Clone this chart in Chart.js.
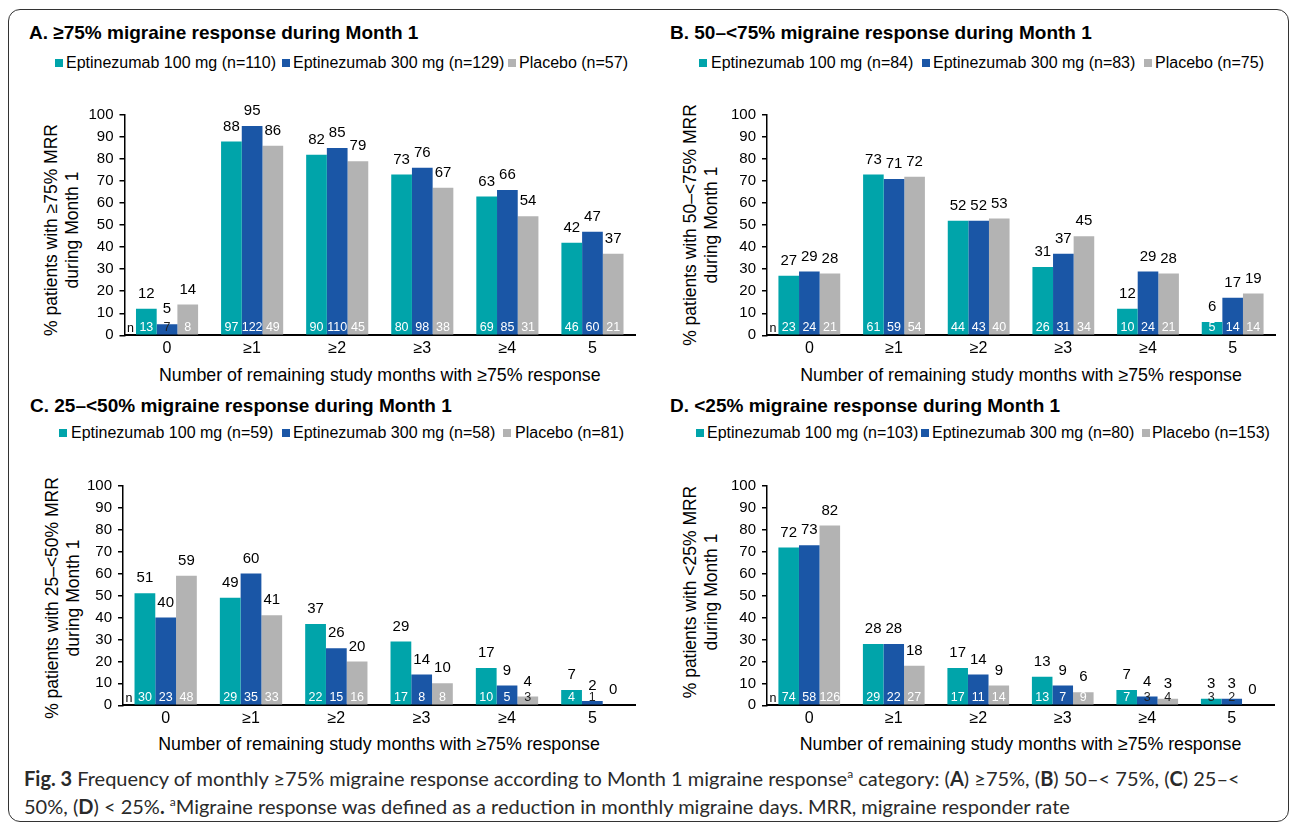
<!DOCTYPE html>
<html>
<head>
<meta charset="utf-8">
<script src="https://cdn.jsdelivr.net/npm/chart.js@4.4.0/dist/chart.umd.min.js"></script>
<style>
  body { margin: 0; background: #fff; width: 1292px; height: 827px; position: relative; overflow: hidden;
         font-family: "Liberation Sans", Arial, sans-serif; color: #000; }
  .frame { position: absolute; left: 8px; top: 9px; width: 1281px; height: 813px; box-sizing: border-box;
           border: 1.5px solid #333; border-radius: 12px; }
  .title { position: absolute; font-weight: bold; font-size: 19px; line-height: 22px; white-space: nowrap; }
  .leg { position: absolute; font-size: 16px; line-height: 18px; white-space: nowrap; }
  .sw { position: absolute; width: 8px; height: 8px; }
  .xt { position: absolute; width: 600px; text-align: center; font-size: 17.8px; line-height: 20px; white-space: nowrap; }
  .yt { position: absolute; width: 300px; height: 42px; text-align: center; font-size: 17.5px; line-height: 20.6px;
        transform: rotate(-90deg); white-space: nowrap; }
  canvas { position: absolute; }
  .cap { position: absolute; left: 24px; font-family: Lato, "Liberation Sans", sans-serif; font-size: 20px;
         line-height: 22px; white-space: nowrap; color: #2a2a2a; }
  .cap sup { font-size: 12px; line-height: 0; }
</style>
</head>
<body>
<div class="frame"></div>

<script>
// x categories
const categories = ['0', '≥1', '≥2', '≥3', '≥4', '5'];
const seriesNames = ['Eptinezumab 100 mg', 'Eptinezumab 300 mg', 'Placebo'];
const seriesColors = ['#00A4AA', '#1A56A6', '#B3B3B3'];

// y axis
const yMin = 0;
const yMax = 100;
const yStep = 10;

// A. >=75% response in Month 1
const aTotals = [110, 129, 57];
const aPct100 = [12, 88, 82, 73, 63, 42];
const aPct300 = [5, 95, 85, 76, 66, 47];
const aPctPbo = [14, 86, 79, 67, 54, 37];
const aN100 = [13, 97, 90, 80, 69, 46];
const aN300 = [7, 122, 110, 98, 85, 60];
const aNPbo = [8, 49, 45, 38, 31, 21];

// B. 50-<75%
const bTotals = [84, 83, 75];
const bPct100 = [27, 73, 52, 31, 12, 6];
const bPct300 = [29, 71, 52, 37, 29, 17];
const bPctPbo = [28, 72, 53, 45, 28, 19];
const bN100 = [23, 61, 44, 26, 10, 5];
const bN300 = [24, 59, 43, 31, 24, 14];
const bNPbo = [21, 54, 40, 34, 21, 14];

// C. 25-<50%
const cTotals = [59, 58, 81];
const cPct100 = [51, 49, 37, 29, 17, 7];
const cPct300 = [40, 60, 26, 14, 9, 2];
const cPctPbo = [59, 41, 20, 10, 4, 0];
const cN100 = [30, 29, 22, 17, 10, 4];
const cN300 = [23, 35, 15, 8, 5, 1];
const cNPbo = [48, 33, 16, 8, 3, null];

// D. <25%
const dTotals = [103, 80, 153];
const dPct100 = [72, 28, 17, 13, 7, 3];
const dPct300 = [73, 28, 14, 9, 4, 3];
const dPctPbo = [82, 18, 9, 6, 3, 0];
const dN100 = [74, 29, 17, 13, 7, 3];
const dN300 = [58, 22, 11, 7, 3, 2];
const dNPbo = [126, 27, 14, 9, 4, null];

const FONT = '"Liberation Sans", Arial, sans-serif';
Chart.defaults.font.family = FONT;
Chart.defaults.color = '#000';

// value above each bar, n inside the bar bottom
const barLabels = {
  id: 'barLabels',
  afterDatasetsDraw(chart) {
    const { ctx, chartArea } = chart;
    ctx.save();
    ctx.textAlign = 'center';
    ctx.textBaseline = 'middle';
    chart.data.datasets.forEach((ds, i) => {
      chart.getDatasetMeta(i).data.forEach((bar, j) => {
        ctx.font = '15px ' + FONT;
        ctx.fillStyle = '#000';
        ctx.fillText(String(ds.data[j]), bar.x, bar.y - 15);
        const n = ds.nValues[j];
        if (n == null) return;
        ctx.font = '12.5px ' + FONT;
        ctx.fillStyle = (bar.base - bar.y) < 12 ? '#222' : '#fff';
        ctx.fillText(String(n), bar.x, bar.base - 7);
      });
    });
    ctx.font = '12.5px ' + FONT;
    ctx.fillStyle = '#000';
    ctx.fillText('n', chartArea.left + 6, chartArea.bottom - 7);
    ctx.restore();
  }
};

const panels = [
  { title: 'A. ≥75% migraine response during Month 1', ytitle: ['% patients with ≥75% MRR', 'during Month 1'],
    totals: aTotals, pct: [aPct100, aPct300, aPctPbo], n: [aN100, aN300, aNPbo],
    box: { left: 80, top: 100, w: 565, h: 265, yw: 44.5, pt: 15, pr: 10 },
    titleAt: [29, 22], legY: 54, legX: [[55, 66], [282, 293], [508, 519]],
    ytAt: [62.3, 230], xtY: 365 },
  { title: 'B. 50–<75% migraine response during Month 1', ytitle: ['% patients with 50–<75% MRR', 'during Month 1'],
    totals: bTotals, pct: [bPct100, bPct300, bPctPbo], n: [bN100, bN300, bNPbo],
    box: { left: 725, top: 100, w: 560, h: 265, yw: 42, pt: 15, pr: 10 },
    titleAt: [670, 22], legY: 54, legX: [[699, 711], [922, 933], [1144, 1155]],
    ytAt: [701, 225], xtY: 365 },
  { title: 'C. 25–<50% migraine response during Month 1', ytitle: ['% patients with 25–<50% MRR', 'during Month 1'],
    totals: cTotals, pct: [cPct100, cPct300, cPctPbo], n: [cN100, cN300, cNPbo],
    box: { left: 80, top: 470, w: 565, h: 265, yw: 43, pt: 15.7, pr: 10 },
    titleAt: [30, 395], legY: 424, legX: [[59, 71], [282, 293], [503, 515]],
    ytAt: [62.5, 598], xtY: 734 },
  { title: 'D. <25% migraine response during Month 1', ytitle: ['% patients with <25% MRR', 'during Month 1'],
    totals: dTotals, pct: [dPct100, dPct300, dPctPbo], n: [dN100, dN300, dNPbo],
    box: { left: 725, top: 470, w: 560, h: 265, yw: 42, pt: 16, pr: 11 },
    titleAt: [670, 395], legY: 424, legX: [[696, 707], [921, 932], [1142, 1152]],
    ytAt: [701, 592], xtY: 734 }
];

function addDiv(cls, html, style) {
  const d = document.createElement('div');
  d.className = cls;
  d.innerHTML = html;
  Object.assign(d.style, style);
  document.body.appendChild(d);
  return d;
}

panels.forEach(p => {
  const b = p.box;
  addDiv('title', p.title, { left: p.titleAt[0] + 'px', top: p.titleAt[1] + 'px' });
  seriesNames.forEach((name, i) => {
    addDiv('sw', '', { left: p.legX[i][0] + 'px', top: (p.legY + 5) + 'px', background: seriesColors[i] });
    addDiv('leg', name + ' (n=' + p.totals[i] + ')', { left: p.legX[i][1] + 'px', top: p.legY + 'px' });
  });
  const plotLeft = b.left + b.yw;
  const plotRight = b.left + b.w - b.pr;
  addDiv('xt', 'Number of remaining study months with ≥75% response',
         { left: ((plotLeft + plotRight) / 2 - 300) + 'px', top: p.xtY + 'px' });
  addDiv('yt', p.ytitle.join('<br>'), { left: (p.ytAt[0] - 150) + 'px', top: (p.ytAt[1] - 21) + 'px' });

  const cv = document.createElement('canvas');
  cv.width = b.w; cv.height = b.h;
  cv.style.left = b.left + 'px'; cv.style.top = b.top + 'px';
  cv.style.width = b.w + 'px'; cv.style.height = b.h + 'px';
  document.body.appendChild(cv);

  new Chart(cv.getContext('2d'), {
    type: 'bar',
    data: {
      labels: categories,
      datasets: seriesNames.map((name, i) => ({
        label: name,
        data: p.pct[i],
        nValues: p.n[i],
        backgroundColor: seriesColors[i],
        borderWidth: 0,
        categoryPercentage: 0.73,
        barPercentage: 1.0
      }))
    },
    options: {
      responsive: false,
      animation: false,
      devicePixelRatio: 1,
      layout: { padding: { top: b.pt, right: b.pr, left: 0, bottom: 0 } },
      plugins: { legend: { display: false }, title: { display: false }, tooltip: { enabled: false } },
      scales: {
        x: {
          grid: { display: false, drawTicks: false },
          border: { display: true, color: '#000', width: 2 },
          ticks: { font: { size: 16 }, color: '#000', padding: 4, maxRotation: 0 },
          afterFit: s => { s.height = 29.7; }
        },
        y: {
          min: yMin, max: yMax,
          grid: { display: true, drawOnChartArea: false, drawTicks: true, tickLength: 5, color: '#000', lineWidth: 1.5 },
          border: { display: true, color: '#000', width: 1.5 },
          ticks: { stepSize: yStep, font: { size: 15 }, color: '#000', padding: 6 },
          afterFit: s => { s.width = b.yw; }
        }
      }
    },
    plugins: [barLabels]
  });
});

addDiv('cap', '<b>Fig. 3</b> Frequency of monthly ≥75% migraine response according to Month 1 migraine response<sup>a</sup> category: (<b>A</b>) ≥75%, (<b>B</b>) 50–&lt; 75%, (<b>C</b>) 25–&lt;',
       { top: '767px' });
addDiv('cap', '50%, (<b>D</b>) &lt; 25%<b>.</b> <sup>a</sup>Migraine response was defined as a reduction in monthly migraine days. MRR, migraine responder rate',
       { top: '795px' });
</script>
</body>
</html>
